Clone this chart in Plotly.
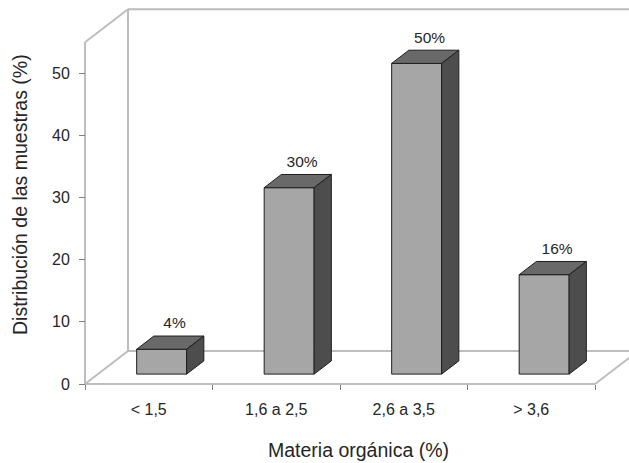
import plotly.graph_objects as go

# Categories and values
categories = ["< 1,5", "1,6 a 2,5", "2,6 a 3,5", "> 3,6"]
values = [4, 30, 50, 16]
value_labels = ["4%", "30%", "50%", "16%"]
y_ticks = [0, 10, 20, 30, 40, 50]

W, H = 629, 463
# pixel scale of the axes
PX_X = 127.5          # px per category
PX_Y = 6.214          # px per percentage point
X0_PX, Y0_PX = 85, 384  # front-left corner of the floor

x_range = [-0.5 - X0_PX / PX_X, -0.5 + (W - X0_PX) / PX_X]
y_range = [-(H - Y0_PX) / PX_Y, Y0_PX / PX_Y]

# depth of the 3D box in data units
DX = 43 / PX_X
DY = 33 / PX_Y
Y_TOP = 55            # height of the walls
F0, F1 = 0.30, 0.70   # front / back depth of the bars
BAR_W = 0.392

FRONT = "#a6a6a6"
TOP = "#696969"
SIDE = "#4d4d4d"
EDGE = "#1e1e1e"
WALL = "#bdbdbd"
TEXT = "#262626"

fig = go.Figure()


def poly(xs, ys, color):
    fig.add_trace(go.Scatter(
        x=xs + [xs[0]], y=ys + [ys[0]], mode="lines", fill="toself",
        fillcolor=color, line=dict(color=EDGE, width=1),
        hoverinfo="skip", showlegend=False))


def seg(xs, ys):
    fig.add_trace(go.Scatter(
        x=xs, y=ys, mode="lines", line=dict(color=WALL, width=2),
        hoverinfo="skip", showlegend=False))


n = len(categories)
left, right = -0.5, n - 0.5
# walls and floor outline
seg([left, left], [0, Y_TOP])
seg([left, left + DX], [Y_TOP, Y_TOP + DY])
seg([left + DX, left + DX], [DY, Y_TOP + DY])
seg([left + DX, right + DX + 1], [Y_TOP + DY, Y_TOP + DY])
seg([left, left + DX], [0, DY])
seg([left + DX, right + DX + 1], [DY, DY])
seg([left, right], [0, 0])
seg([right, right + DX], [0, DY])

# 3D bars
for i, v in enumerate(values):
    xl = i - BAR_W / 2
    xr = i + BAR_W / 2
    b0, b1 = F0 * DY, F1 * DY
    s0, s1 = F0 * DX, F1 * DX
    poly([xl + s0, xr + s0, xr + s0, xl + s0], [b0, b0, b0 + v, b0 + v], FRONT)
    poly([xl + s0, xr + s0, xr + s1, xl + s1],
         [b0 + v, b0 + v, b1 + v, b1 + v], TOP)
    poly([xr + s0, xr + s1, xr + s1, xr + s0],
         [b0, b1, b1 + v, b0 + v], SIDE)

# value labels above each bar
fig.add_trace(go.Scatter(
    x=[i + 0.6 * DX for i in range(n)],
    y=[v + F1 * DY + 11.5 / PX_Y for v in values],
    mode="text", text=value_labels, textposition="middle center",
    textfont=dict(family="Liberation Sans, Arial", size=15.5, color=TEXT),
    hoverinfo="skip", showlegend=False))

fig.update_layout(
    width=W, height=H,
    margin=dict(l=0, r=0, t=0, b=0),
    paper_bgcolor="white", plot_bgcolor="white",
    font=dict(family="Liberation Sans, Arial", color=TEXT),
    xaxis=dict(
        range=x_range, anchor="free", position=(H - Y0_PX) / H,
        showgrid=False, zeroline=False, showline=False,
        tickmode="array", tickvals=list(range(n)), ticktext=categories,
        ticks="", tickfont=dict(size=16, color=TEXT), ticklabelstandoff=14,
        minor=dict(tickmode="array", tickvals=[k - 0.5 for k in range(n + 1)],
                   ticks="outside", ticklen=5, tickcolor="#7f7f7f", tickwidth=1),
        fixedrange=True,
    ),
    yaxis=dict(
        range=y_range, anchor="free", position=X0_PX / W, side="left",
        showgrid=False, zeroline=False, showline=False,
        tickmode="array", tickvals=y_ticks,
        ticks="outside", ticklen=6, tickcolor="#7f7f7f", tickwidth=1,
        tickfont=dict(size=16, color=TEXT), ticklabelstandoff=6,
        fixedrange=True,
    ),
    annotations=[
        dict(text="Distribución de las muestras (%)", textangle=-90,
             x=20 / W, y=1 - 195 / H, xref="paper", yref="paper",
             showarrow=False, xanchor="center", yanchor="middle",
             font=dict(size=19.5, color=TEXT)),
        dict(text="Materia orgánica (%)",
             x=358 / W, y=1 - 449.5 / H, xref="paper", yref="paper",
             showarrow=False, xanchor="center", yanchor="middle",
             font=dict(size=19.5, color=TEXT)),
    ],
)

fig.write_html("out.html")
